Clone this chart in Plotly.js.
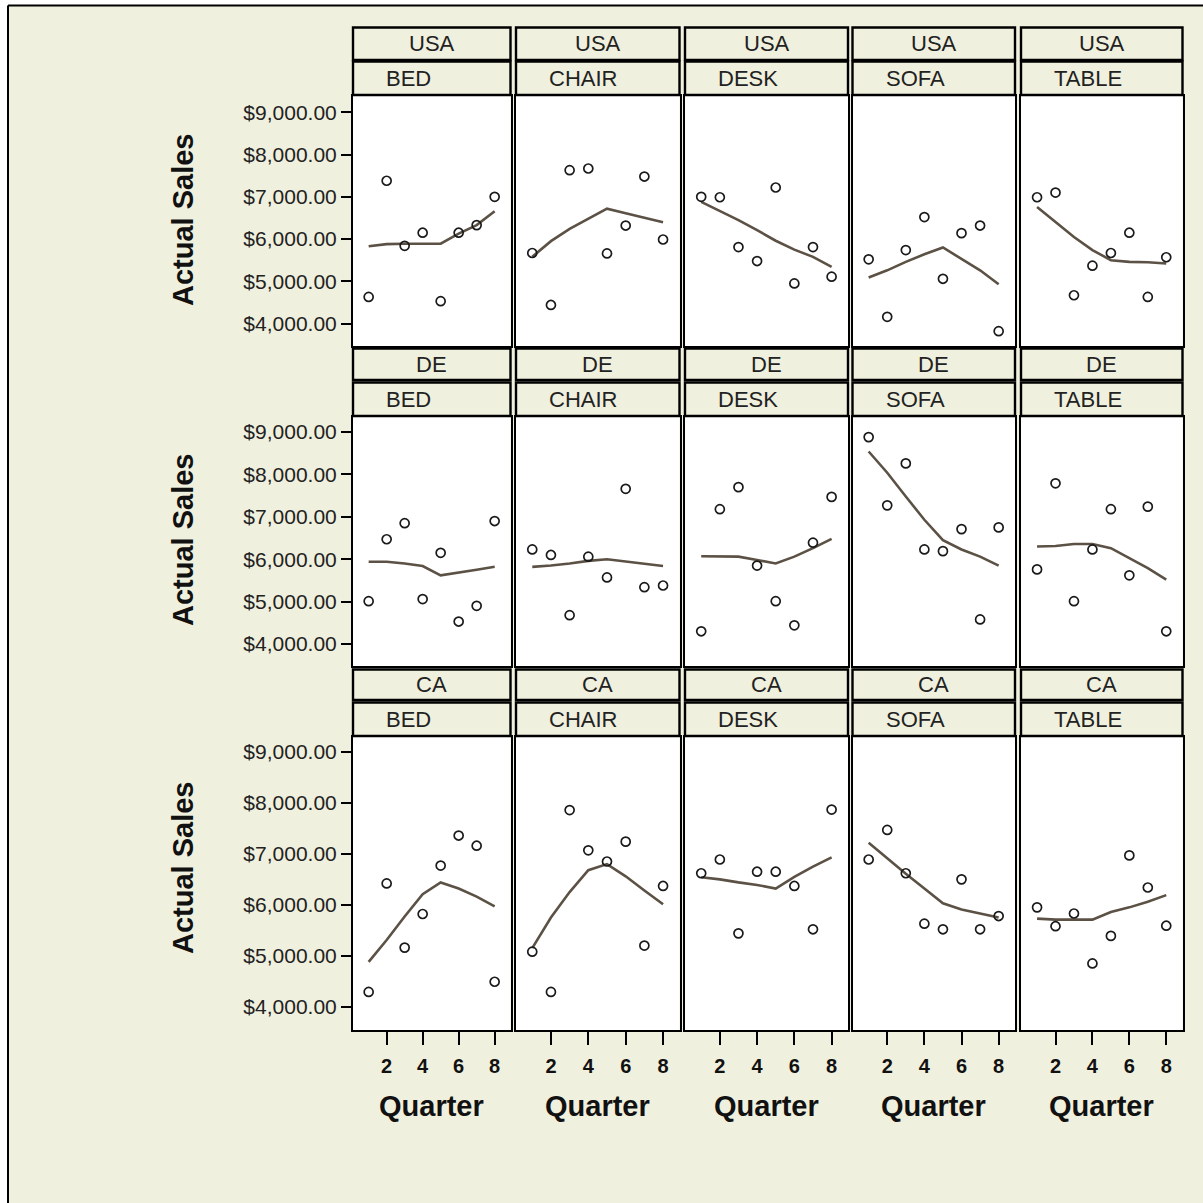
<!DOCTYPE html>
<html>
<head>
<meta charset="utf-8">
<script src="https://cdn.plot.ly/plotly-3.0.1.min.js"></script>
<style>html,body{margin:0;padding:0;background:#F0F0DE;}#chart{width:1203px;height:1203px;}</style>
</head>
<body>
<div id="chart"></div>
<script>
// ---------------- DATA ----------------
const quarters = [1, 2, 3, 4, 5, 6, 7, 8];
const countries = ['USA', 'DE', 'CA'];
const products = ['BED', 'CHAIR', 'DESK', 'SOFA', 'TABLE'];
const yTickVals = [4000, 5000, 6000, 7000, 8000, 9000];
const xTickVals = [2, 4, 6, 8];

// Actual sales (points)
const salesUSA_BED   = [4630, 7380, 5840, 6150, 4530, 6150, 6330, 7000];
const salesUSA_CHAIR = [5670, 4440, 7630, 7670, 5660, 6320, 7480, 5990];
const salesUSA_DESK  = [7000, 6990, 5810, 5480, 7220, 4950, 5810, 5110];
const salesUSA_SOFA  = [5520, 4160, 5740, 6520, 5060, 6140, 6320, 3820];
const salesUSA_TABLE = [6990, 7100, 4670, 5370, 5670, 6150, 4630, 5570];

const salesDE_BED    = [5010, 6470, 6850, 5060, 6150, 4530, 4900, 6900];
const salesDE_CHAIR  = [6230, 6100, 4680, 6060, 5570, 7660, 5340, 5380];
const salesDE_DESK   = [4300, 7180, 7700, 5850, 5010, 4440, 6390, 7470];
const salesDE_SOFA   = [8880, 7270, 8260, 6230, 6190, 6710, 4580, 6750];
const salesDE_TABLE  = [5760, 7790, 5010, 6230, 7180, 5620, 7240, 4300];

const salesCA_BED    = [4290, 6420, 5160, 5820, 6770, 7360, 7160, 4490];
const salesCA_CHAIR  = [5080, 4290, 7860, 7070, 6850, 7240, 5200, 6370];
const salesCA_DESK   = [6620, 6890, 5440, 6650, 6650, 6370, 5520, 7870];
const salesCA_SOFA   = [6890, 7470, 6620, 5630, 5520, 6500, 5520, 5780];
const salesCA_TABLE  = [5950, 5580, 5830, 4850, 5390, 6970, 6340, 5590];

// Smoothed fit (lines)
const fitUSA_BED   = [5830, 5880, 5890, 5890, 5890, 6130, 6330, 6660];
const fitUSA_CHAIR = [5580, 5950, 6240, 6480, 6720, 6610, 6510, 6400];
const fitUSA_DESK  = [6880, 6670, 6450, 6210, 5960, 5750, 5580, 5340];
const fitUSA_SOFA  = [5090, 5260, 5460, 5640, 5800, 5540, 5260, 4930];
const fitUSA_TABLE = [6760, 6410, 6050, 5740, 5500, 5460, 5450, 5420];

const fitDE_BED    = [5940, 5940, 5900, 5840, 5620, 5680, 5750, 5820];
const fitDE_CHAIR  = [5820, 5850, 5900, 5960, 6000, 5950, 5900, 5840];
const fitDE_DESK   = [6070, 6070, 6060, 5980, 5900, 6060, 6260, 6480];
const fitDE_SOFA   = [8540, 8040, 7480, 6930, 6450, 6230, 6060, 5850];
const fitDE_TABLE  = [6300, 6310, 6360, 6360, 6260, 6020, 5790, 5520];

const fitCA_BED    = [4880, 5310, 5770, 6210, 6440, 6320, 6160, 5970];
const fitCA_CHAIR  = [5150, 5750, 6250, 6680, 6800, 6560, 6280, 6010];
const fitCA_DESK   = [6540, 6500, 6440, 6390, 6320, 6550, 6750, 6930];
const fitCA_SOFA   = [7220, 6910, 6610, 6320, 6030, 5910, 5830, 5750];
const fitCA_TABLE  = [5730, 5710, 5710, 5710, 5860, 5950, 6060, 6190];

const salesTable = {
  USA: [salesUSA_BED, salesUSA_CHAIR, salesUSA_DESK, salesUSA_SOFA, salesUSA_TABLE],
  DE:  [salesDE_BED, salesDE_CHAIR, salesDE_DESK, salesDE_SOFA, salesDE_TABLE],
  CA:  [salesCA_BED, salesCA_CHAIR, salesCA_DESK, salesCA_SOFA, salesCA_TABLE]
};
const fitTable = {
  USA: [fitUSA_BED, fitUSA_CHAIR, fitUSA_DESK, fitUSA_SOFA, fitUSA_TABLE],
  DE:  [fitDE_BED, fitDE_CHAIR, fitDE_DESK, fitDE_SOFA, fitDE_TABLE],
  CA:  [fitCA_BED, fitCA_CHAIR, fitCA_DESK, fitCA_SOFA, fitCA_TABLE]
};

// ---------------- LAYOUT GEOMETRY (pixels) ----------------
const W = 1203, H = 1203;
const px = v => v / W;
const py = v => 1 - v / H;
const colBounds = [[353, 510.5], [516, 679.5], [685, 848], [852.5, 1015], [1021, 1182.5]];
const rowPlot = [[96, 346], [417, 666], [737, 1030]];
const rowCountry = [[27.5, 60], [348.5, 380], [669.5, 700]];
const rowProduct = [[61.5, 95], [382.5, 416], [702.5, 736]];
const rowYRange = [[3469, 9386], [3481, 9354], [3543, 9294]];
const yTitleY = [220, 540, 868];
const xRange = [0.13, 8.88];

const BG = '#F0F0DE';
const FONT = 'Liberation Sans, Arial, sans-serif';
const LINE_COLOR = '#5C5145';

const traces = [];
const layout = {
  width: W, height: H,
  margin: {l: 0, r: 0, t: 0, b: 0},
  paper_bgcolor: BG,
  plot_bgcolor: '#FFFFFF',
  showlegend: false,
  shapes: [],
  annotations: []
};

let idx = 0;
countries.forEach((c, r) => {
  products.forEach((p, k) => {
    idx++;
    const xa = 'xaxis' + (idx === 1 ? '' : idx);
    const ya = 'yaxis' + (idx === 1 ? '' : idx);
    const xr = 'x' + (idx === 1 ? '' : idx);
    const yr = 'y' + (idx === 1 ? '' : idx);
    const isBottom = r === countries.length - 1;
    const isLeft = k === 0;

    layout[xa] = {
      domain: [px(colBounds[k][0]), px(colBounds[k][1])],
      anchor: yr,
      range: xRange,
      showgrid: false, zeroline: false,
      showline: true, mirror: true, linecolor: '#000', linewidth: 2,
      tickmode: 'array', tickvals: xTickVals,
      ticks: isBottom ? 'outside' : '', ticklen: 13, tickwidth: 2, tickcolor: '#000',
      showticklabels: isBottom,
      ticklabelstandoff: 4,
      tickfont: {family: FONT, size: 20, color: '#111', weight: 'bold'}
    };
    layout[ya] = {
      domain: [py(rowPlot[r][1]), py(rowPlot[r][0])],
      anchor: xr,
      range: rowYRange[r],
      showgrid: false, zeroline: false,
      showline: true, mirror: true, linecolor: '#000', linewidth: 2,
      tickmode: 'array', tickvals: yTickVals,
      tickformat: '$,.2f',
      ticks: isLeft ? 'outside' : '', ticklen: 10, tickwidth: 2, tickcolor: '#000',
      showticklabels: isLeft,
      tickfont: {family: FONT, size: 21, color: '#222'}
    };

    traces.push({
      type: 'scatter', mode: 'lines',
      x: quarters, y: fitTable[c][k],
      xaxis: xr, yaxis: yr,
      line: {color: LINE_COLOR, width: 2.6},
      hoverinfo: 'skip'
    });
    traces.push({
      type: 'scatter', mode: 'markers',
      x: quarters, y: salesTable[c][k],
      xaxis: xr, yaxis: yr,
      marker: {symbol: 'circle-open', size: 9, color: '#1a1a1a', line: {width: 1.7, color: '#1a1a1a'}}
    });

    // strip headers
    [[rowCountry[r], c, 'center'], [rowProduct[r], p, 'left']].forEach(([yb, txt, al]) => {
      layout.shapes.push({
        type: 'rect', xref: 'paper', yref: 'paper',
        x0: px(colBounds[k][0]), x1: px(colBounds[k][1]),
        y0: py(yb[1]), y1: py(yb[0]),
        fillcolor: BG, line: {color: '#000', width: 2.4}, layer: 'above'
      });
      layout.annotations.push({
        xref: 'paper', yref: 'paper',
        x: al === 'center' ? px((colBounds[k][0] + colBounds[k][1]) / 2) : px(colBounds[k][0] + 31),
        y: py((yb[0] + yb[1]) / 2),
        xanchor: al, yanchor: 'middle',
        text: txt, showarrow: false,
        font: {family: FONT, size: 22, color: '#222'}
      });
    });
  });
  // y-axis title per row
  layout.annotations.push({
    xref: 'paper', yref: 'paper', x: px(183), y: py(yTitleY[r]),
    xanchor: 'center', yanchor: 'middle', textangle: -90,
    text: 'Actual Sales', showarrow: false,
    font: {family: FONT, size: 29, color: '#111', weight: 'bold'}
  });
});

// x-axis titles
products.forEach((p, k) => {
  layout.annotations.push({
    xref: 'paper', yref: 'paper',
    x: px((colBounds[k][0] + colBounds[k][1]) / 2), y: py(1106),
    xanchor: 'center', yanchor: 'middle',
    text: 'Quarter', showarrow: false,
    font: {family: FONT, size: 29, color: '#111', weight: 'bold'}
  });
});

// outer frame (top and left edges)
layout.shapes.push({type: 'rect', xref: 'paper', yref: 'paper', x0: 0, x1: px(7), y0: 0, y1: 1, fillcolor: '#FFFFFF', line: {width: 0}, layer: 'below'});
layout.shapes.push({type: 'rect', xref: 'paper', yref: 'paper', x0: 0, x1: 1, y0: py(5), y1: 1, fillcolor: '#FFFFFF', line: {width: 0}, layer: 'below'});
layout.shapes.push({type: 'line', xref: 'paper', yref: 'paper', x0: px(8), x1: px(8), y0: 0, y1: py(5.5), line: {color: '#000', width: 2}});
layout.shapes.push({type: 'line', xref: 'paper', yref: 'paper', x0: px(8), x1: 1, y0: py(5.5), y1: py(5.5), line: {color: '#000', width: 2}});

Plotly.newPlot('chart', traces, layout, {displayModeBar: false, staticPlot: true});
</script>
</body>
</html>
